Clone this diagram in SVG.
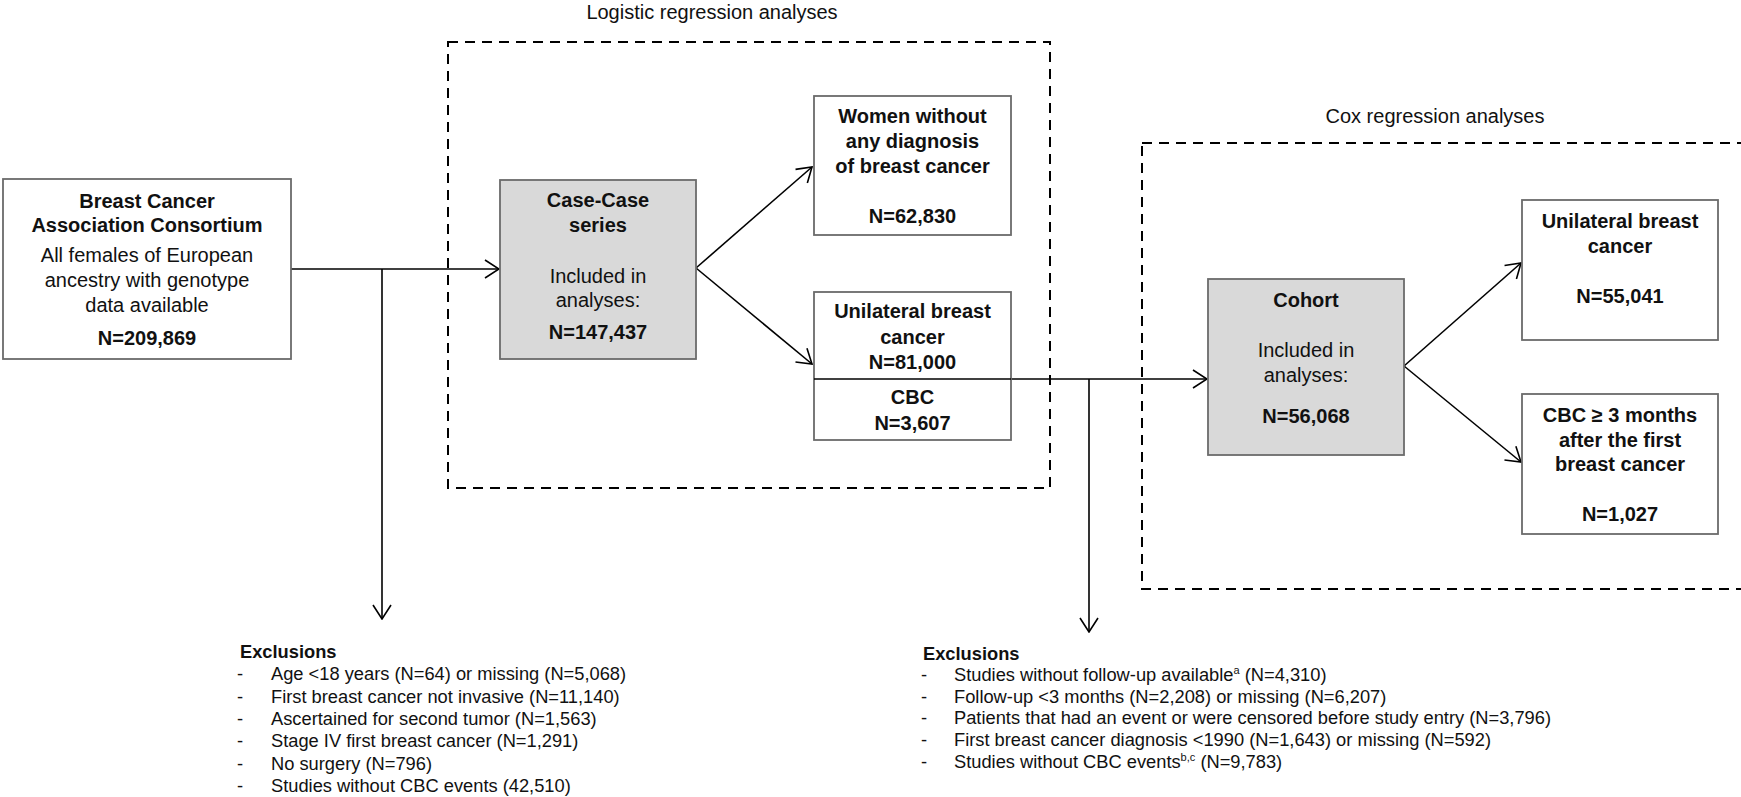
<svg xmlns="http://www.w3.org/2000/svg" width="1741" height="797" viewBox="0 0 1741 797">
<defs>
<marker id="arr" viewBox="0 0 16 20" refX="15" refY="10" markerWidth="16" markerHeight="20" markerUnits="userSpaceOnUse" orient="auto">
<path d="M1,1 L15,10 L1,19" fill="none" stroke="#000" stroke-width="1.6"/>
</marker>
<style>
.box{fill:#fff;stroke:#6b6b6b;stroke-width:1.8}
.gbox{fill:#d9d9d9;stroke:#6b6b6b;stroke-width:1.8}
.dash{fill:none;stroke:#000;stroke-width:2;stroke-dasharray:10 7}
.ln{fill:none;stroke:#000;stroke-width:1.6}
text{font-family:"Liberation Sans",Arial,sans-serif;fill:#111}
.t{font-size:20px;text-anchor:middle}
.b{font-size:20px;font-weight:bold;text-anchor:middle}
.h{font-size:20px}
.ex{font-size:18.3px}
.exb{font-size:18.3px;font-weight:bold}
</style>
</defs>
<rect width="1741" height="797" fill="#fff"/>

<g id="group-logistic">
<rect class="dash" x="448" y="42" width="602" height="446"/>
<text class="h" x="712" y="19" text-anchor="middle">Logistic regression analyses</text>
</g>
<g id="group-cox">
<rect class="dash" x="1142" y="143" width="640" height="446"/>
<text class="h" x="1435" y="123" text-anchor="middle">Cox regression analyses</text>
</g>

<g id="connectors">
<line class="ln" x1="291" y1="269" x2="499" y2="269" marker-end="url(#arr)"/>
<line class="ln" x1="382" y1="269" x2="382" y2="619" marker-end="url(#arr)"/>
<line class="ln" x1="696" y1="268" x2="812" y2="167" marker-end="url(#arr)"/>
<line class="ln" x1="696" y1="268" x2="812" y2="364" marker-end="url(#arr)"/>
<line class="ln" x1="1011" y1="379" x2="1207" y2="379" marker-end="url(#arr)"/>
<line class="ln" x1="1089" y1="379" x2="1089" y2="632" marker-end="url(#arr)"/>
<line class="ln" x1="1404" y1="366" x2="1521" y2="263" marker-end="url(#arr)"/>
<line class="ln" x1="1404" y1="366" x2="1521" y2="462" marker-end="url(#arr)"/>
</g>

<g id="node-bcac">
<rect class="box" x="3" y="179" width="288" height="180"/>
<text class="b" x="147" y="208">Breast Cancer</text>
<text class="b" x="147" y="232">Association  Consortium</text>
<text class="t" x="147" y="262">All females of European</text>
<text class="t" x="147" y="287">ancestry with genotype</text>
<text class="t" x="147" y="312">data available</text>
<text class="b" x="147" y="345">N=209,869</text>
</g>

<g id="node-casecase">
<rect class="gbox" x="500" y="180" width="196" height="179"/>
<text class="b" x="598" y="207">Case-Case</text>
<text class="b" x="598" y="232">series</text>
<text class="t" x="598" y="283">Included  in</text>
<text class="t" x="598" y="307">analyses:</text>
<text class="b" x="598" y="339">N=147,437</text>
</g>

<g id="node-women">
<rect class="box" x="814" y="96" width="197" height="139"/>
<text class="b" x="912.5" y="123">Women without</text>
<text class="b" x="912.5" y="148">any diagnosis</text>
<text class="b" x="912.5" y="173">of breast cancer</text>
<text class="b" x="912.5" y="223">N=62,830</text>
</g>

<g id="node-unilateral-cbc">
<rect class="box" x="814" y="292" width="197" height="148"/>
<line class="ln" x1="814" y1="379" x2="1011" y2="379"/>
<text class="b" x="912.5" y="318">Unilateral  breast</text>
<text class="b" x="912.5" y="344">cancer</text>
<text class="b" x="912.5" y="369">N=81,000</text>
<text class="b" x="912.5" y="404">CBC</text>
<text class="b" x="912.5" y="430">N=3,607</text>
</g>

<g id="node-cohort">
<rect class="gbox" x="1208" y="279" width="196" height="176"/>
<text class="b" x="1306" y="307">Cohort</text>
<text class="t" x="1306" y="357">Included  in</text>
<text class="t" x="1306" y="382">analyses:</text>
<text class="b" x="1306" y="423">N=56,068</text>
</g>

<g id="node-unilateral2">
<rect class="box" x="1522" y="200" width="196" height="140"/>
<text class="b" x="1620" y="228">Unilateral  breast</text>
<text class="b" x="1620" y="253">cancer</text>
<text class="b" x="1620" y="303">N=55,041</text>
</g>

<g id="node-cbc3">
<rect class="box" x="1522" y="394" width="196" height="140"/>
<text class="b" x="1620" y="422">CBC ≥ 3 months</text>
<text class="b" x="1620" y="447">after the first</text>
<text class="b" x="1620" y="471">breast cancer</text>
<text class="b" x="1620" y="521">N=1,027</text>
</g>

<g id="node-exclusions1">
<text class="exb" x="240" y="658">Exclusions</text>
<text class="ex" x="237" y="680">-</text><text class="ex" x="271" y="680">Age &lt;18 years (N=64) or missing (N=5,068)</text>
<text class="ex" x="237" y="703">-</text><text class="ex" x="271" y="703">First breast cancer not invasive (N=11,140)</text>
<text class="ex" x="237" y="725">-</text><text class="ex" x="271" y="725">Ascertained for second tumor (N=1,563)</text>
<text class="ex" x="237" y="747">-</text><text class="ex" x="271" y="747">Stage IV first breast cancer (N=1,291)</text>
<text class="ex" x="237" y="770">-</text><text class="ex" x="271" y="770">No surgery (N=796)</text>
<text class="ex" x="237" y="792">-</text><text class="ex" x="271" y="792">Studies without CBC events (42,510)</text>
</g>

<g id="node-exclusions2">
<text class="exb" x="923" y="660">Exclusions</text>
<text class="ex" x="921" y="681">-</text><text class="ex" x="954" y="681">Studies without follow-up available<tspan font-size="11" dy="-7">a</tspan><tspan dy="7"> (N=4,310)</tspan></text>
<text class="ex" x="921" y="703">-</text><text class="ex" x="954" y="703">Follow-up &lt;3 months (N=2,208) or missing (N=6,207)</text>
<text class="ex" x="921" y="724">-</text><text class="ex" x="954" y="724">Patients that had an event or were censored before study entry (N=3,796)</text>
<text class="ex" x="921" y="746">-</text><text class="ex" x="954" y="746">First breast cancer diagnosis &lt;1990 (N=1,643) or missing (N=592)</text>
<text class="ex" x="921" y="768">-</text><text class="ex" x="954" y="768">Studies without CBC events<tspan font-size="11" dy="-7">b,c</tspan><tspan dy="7"> (N=9,783)</tspan></text>
</g>
</svg>
